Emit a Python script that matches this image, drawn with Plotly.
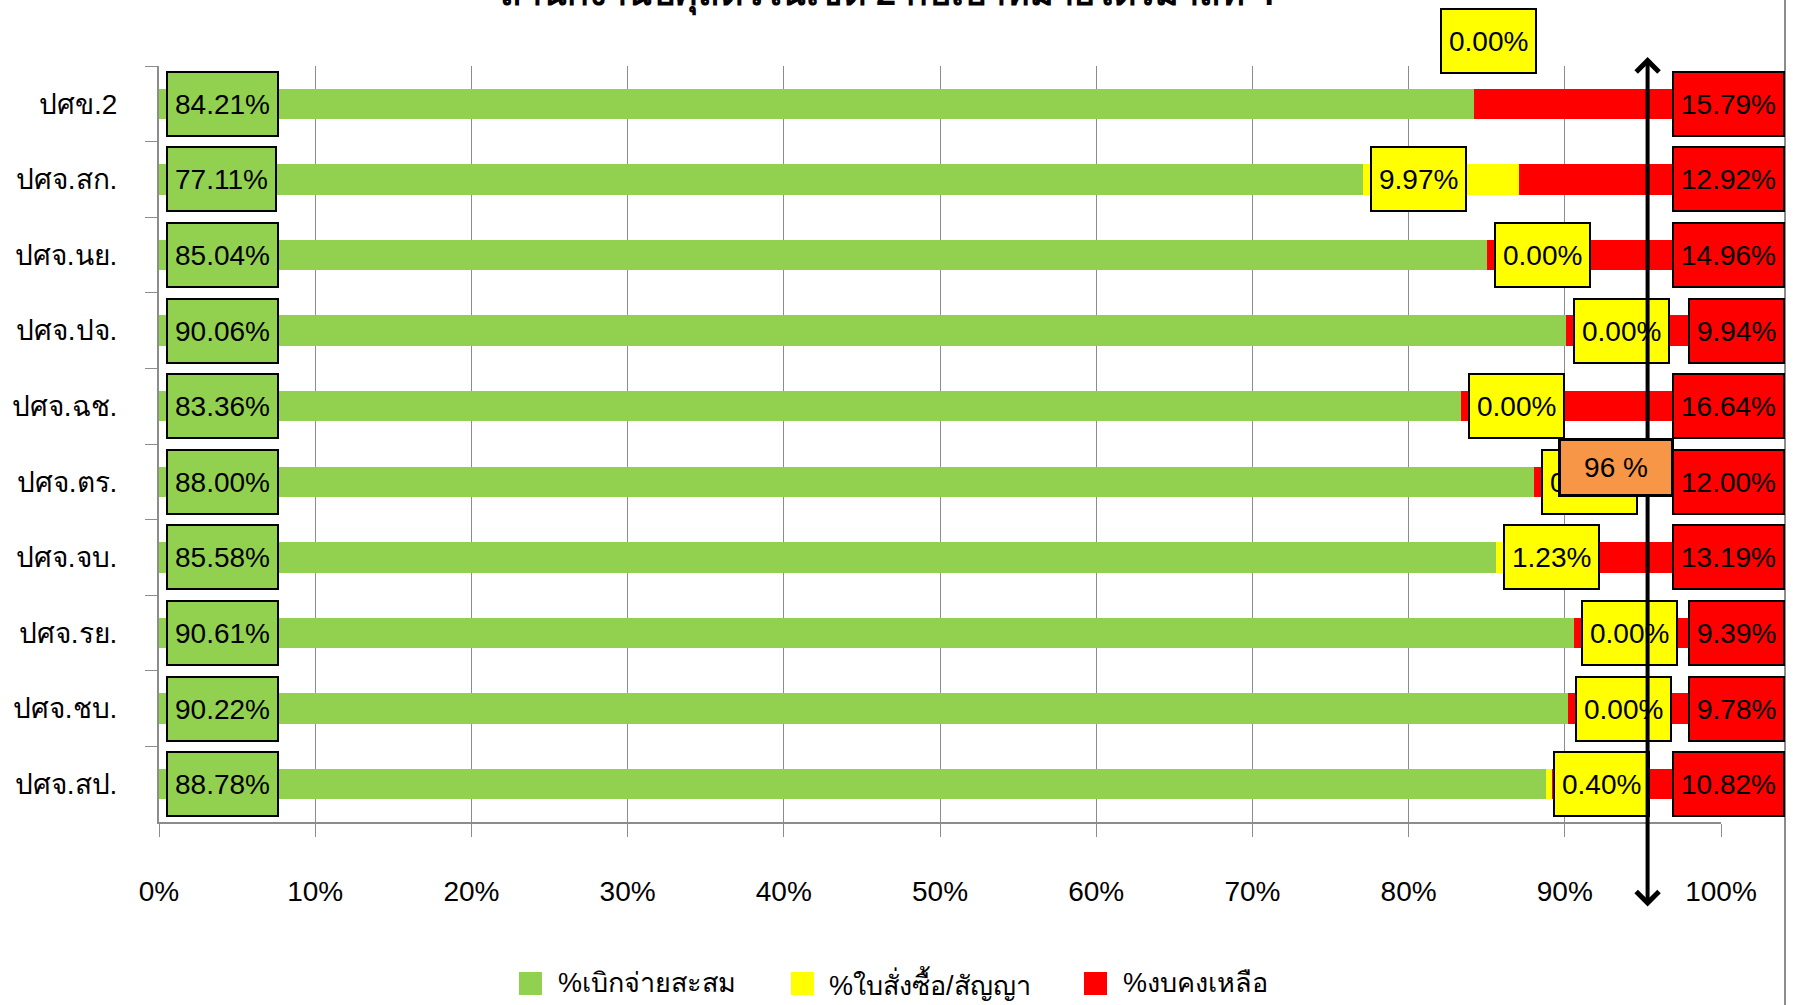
import plotly.graph_objects as go

# ---------------- data ----------------
categories = ["ปศข.2", "ปศจ.สก.", "ปศจ.นย.", "ปศจ.ปจ.", "ปศจ.ฉช.",
              "ปศจ.ตร.", "ปศจ.จบ.", "ปศจ.รย.", "ปศจ.ชบ.", "ปศจ.สป."]
disbursed = [84.21, 77.11, 85.04, 90.06, 83.36, 88.00, 85.58, 90.61, 90.22, 88.78]
committed = [0.00, 9.97, 0.00, 0.00, 0.00, 0.00, 1.23, 0.00, 0.00, 0.40]
remaining = [15.79, 12.92, 14.96, 9.94, 16.64, 12.00, 13.19, 9.39, 9.78, 10.82]
series_names = ["%เบิกจ่ายสะสม", "%ใบสั่งซื้อ/สัญญา", "%งบคงเหลือ"]
target = 96
x_ticks = list(range(0, 101, 10))
x_tick_labels = [f"{v}%" for v in x_ticks]
title_text = "สำนักงานปศุสัตว์ในเขต 2 กับเป้าหมายไตรมาสที่ 4"

# ---------------- style ----------------
colors = ["#92D050", "#FFFF00", "#FF0000"]
FONT = "Liberation Sans, Tahoma, Noto Sans, DejaVu Sans, sans-serif"
W, H = 1797, 1005
ML, MR, MT, MB = 159, 76, 66, 183
PW, PH = W - ML - MR, H - MT - MB
GRAY = "#8c8c8c"
arrow_x = 95.3  # hand-drawn arrow position in the original


def px_x(px):
    return (px - ML) / PW


def px_y(py):
    return (H - MB - py) / PH


fig = go.Figure()
for vals, name, col in zip([disbursed, committed, remaining], series_names, colors):
    fig.add_trace(go.Bar(
        y=categories, x=vals, name=name, orientation="h",
        marker=dict(color=col, line=dict(width=0)),
        showlegend=False, hoverinfo="x+name",
    ))

ann = []
box_font = dict(family=FONT, size=28, color="black")

# green labels (inside base)
for c, v in zip(categories, disbursed):
    ann.append(dict(x=0, y=c, xref="x", yref="y", text=f"{v:.2f}%", showarrow=False,
                    xanchor="left", xshift=7, font=box_font, bgcolor=colors[0],
                    bordercolor="black", borderwidth=2, borderpad=7, height=48))

# red labels (end)
for c, g, y_, r in zip(categories, disbursed, committed, remaining):
    ann.append(dict(x=g + y_ + r, y=c, xref="x", yref="y", text=f"{r:.2f}%", showarrow=False,
                    xanchor="right", xshift=64, font=box_font, bgcolor=colors[2],
                    bordercolor="black", borderwidth=2, borderpad=7, height=48))

# yellow labels (inside base of yellow segment)
moved = {0: (-34, 63)}
for i, (c, g, y_) in enumerate(zip(categories, disbursed, committed)):
    xs, ys = moved.get(i, (7, 0))
    ann.append(dict(x=g, y=c, xref="x", yref="y", text=f"{y_:.2f}%", showarrow=False,
                    xanchor="left", xshift=xs, yshift=ys, font=box_font, bgcolor=colors[1],
                    bordercolor="black", borderwidth=2, borderpad=7, height=48))

# double-headed arrow
ann.append(dict(x=arrow_x, y=px_y(57), xref="x", yref="paper", text="",
                showarrow=True, ax=0, ay=851, axref="pixel", ayref="pixel",
                arrowside="end+start", arrowhead=4, startarrowhead=4,
                arrowsize=1.1, startarrowsize=1.1, arrowwidth=4, arrowcolor="black",
                standoff=0, startstandoff=0))

# target box
ann.append(dict(x=arrow_x, y=categories[5], xref="x", yref="y", text=f"{target} %",
                showarrow=False, xshift=-32, yshift=14, font=box_font, bgcolor="#F79646",
                bordercolor="black", borderwidth=3, borderpad=3, width=104, height=47))

# title (cropped at top in original)
ann.append(dict(x=px_x(887), y=px_y(18), xref="paper", yref="paper", text=f"<b>{title_text}</b>",
                showarrow=False, xanchor="center", yanchor="bottom",
                font=dict(family=FONT, size=36, color="black")))

# manual legend
shapes = []
leg_sq_x = [519, 791, 1084]
leg_tx_x = [556, 827, 1121]
for name, col, sx, tx in zip(series_names, colors, leg_sq_x, leg_tx_x):
    shapes.append(dict(type="rect", xref="paper", yref="paper",
                       x0=px_x(sx), x1=px_x(sx + 23), y0=px_y(995), y1=px_y(972),
                       fillcolor=col, line=dict(width=0)))
    ann.append(dict(x=px_x(tx), y=px_y(983), xref="paper", yref="paper", text=name,
                    showarrow=False, xanchor="left", yanchor="middle",
                    font=dict(family=FONT, size=27, color="black")))

# right chart border
shapes.append(dict(type="line", xref="paper", yref="paper",
                   x0=px_x(1785), x1=px_x(1785), y0=px_y(H), y1=px_y(0),
                   line=dict(color=GRAY, width=2)))

fig.update_layout(
    width=W, height=H, barmode="stack", bargap=0.6,
    margin=dict(l=ML, r=MR, t=MT, b=MB, pad=0),
    paper_bgcolor="white", plot_bgcolor="white",
    font=dict(family=FONT, size=28, color="black"),
    annotations=ann, shapes=shapes, showlegend=False,
    xaxis=dict(range=[0, 100], tickvals=x_ticks, ticktext=x_tick_labels,
               showgrid=True, gridcolor=GRAY, gridwidth=1,
               showline=True, linecolor=GRAY, linewidth=2,
               ticks="outside", ticklen=13, tickcolor=GRAY, tickwidth=1,
               ticklabelstandoff=30, zeroline=False,
               tickfont=dict(family=FONT, size=28, color="black"), fixedrange=True),
    yaxis=dict(type="category", autorange="reversed", tickson="boundaries",
               ticks="outside", ticklen=12, tickcolor=GRAY, tickwidth=1,
               showline=True, linecolor=GRAY, linewidth=2, showgrid=False,
               ticklabelstandoff=34,
               tickfont=dict(family=FONT, size=28, color="black"), fixedrange=True),
)

fig.write_html("out.html", config={"displayModeBar": False},
               post_script="document.body.style.margin='0px';document.body.style.overflow='hidden';")
